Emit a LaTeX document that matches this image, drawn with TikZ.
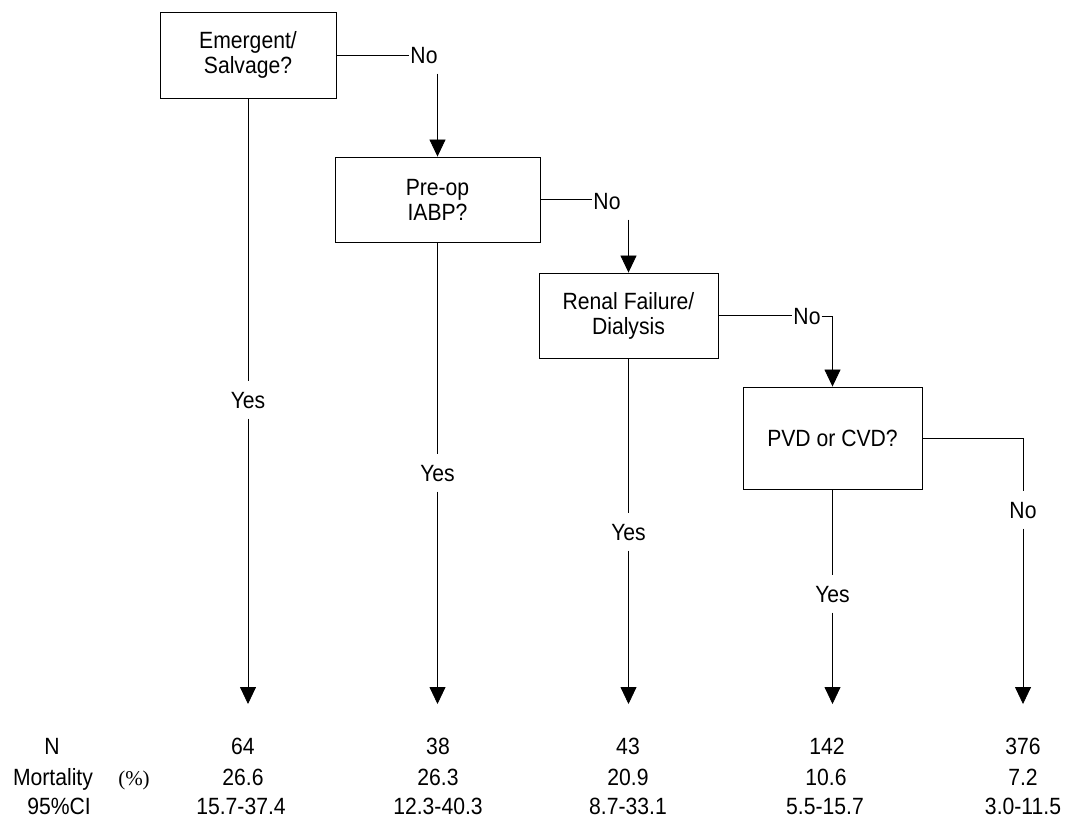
\documentclass[tikz,border=0pt]{standalone}
\usepackage{fontspec}
\setmainfont{Liberation Sans}[FakeStretch=0.9]
\newfontfamily\pctserif{Liberation Serif}
\usetikzlibrary{arrows.meta}
\begin{document}
\begin{tikzpicture}[x=1pt,y=-1pt,
  every node/.style={font=\fontsize{23.5}{25}\selectfont},
  ln/.style={draw=black, line width=0.8pt},
  arr/.style={ln, -{Triangle[width=16pt,length=17pt]}},
  box/.style={draw=black, line width=0.9pt, align=center, inner sep=0pt},
  lbl/.style={fill=white, inner xsep=1pt, inner ysep=10pt, text height=17pt, text depth=0pt},
  val/.style={anchor=base, inner sep=0pt}]
\useasboundingbox (0,0) rectangle (1068,820);
% decision boxes
\node[box, minimum width=176pt, minimum height=86pt] (b1) at (248,55) {Emergent/\\Salvage?};
\node[box, minimum width=205pt, minimum height=85pt] (b2) at (437.5,199.5) {Pre-op\\IABP?};
\node[box, minimum width=179pt, minimum height=85pt] (b3) at (628.5,315.5) {Renal Failure/\\Dialysis};
\node[box, minimum width=179pt, minimum height=102pt] (b4) at (832.5,438) {PVD or CVD?};
% branch labels
\node[lbl] (n1) at (424,55) {No};
\node[lbl] (n2) at (607,201) {No};
\node[lbl] (n3) at (807,316) {No};
\node[lbl] (n4) at (1023,510) {No};
\node[lbl] (y1) at (248,400) {Yes};
\node[lbl] (y2) at (437.5,473) {Yes};
\node[lbl] (y3) at (628.5,532) {Yes};
\node[lbl] (y4) at (832.5,594) {Yes};
% arrow ends
\coordinate (e1) at (248,704);
\coordinate (e2) at (437.5,704);
\coordinate (e3) at (628.5,704);
\coordinate (e4) at (832.5,704);
\coordinate (e5) at (1023,704);
% No branches
\draw[ln] (b1.east) -- (n1.west);
\draw[arr] (n1.south -| b2.north) -- (b2.north);
\draw[ln] (b2.east) -- (b2.east -| n2.west);
\draw[arr] (n2.south -| b3.north) -- (b3.north);
\draw[ln] (b3.east) -- (b3.east -| n3.west);
\draw[arr] (n3.east) -| (b4.north);
\draw[ln] (b4.east) -| (n4.north);
\draw[arr] (n4.south) -- (e5);
% Yes branches
\draw[ln] (b1.south) -- (y1.north);
\draw[arr] (y1.south) -- (e1);
\draw[ln] (b2.south) -- (y2.north);
\draw[arr] (y2.south) -- (e2);
\draw[ln] (b3.south) -- (y3.north);
\draw[arr] (y3.south) -- (e3);
\draw[ln] (b4.south) -- (y4.north);
\draw[arr] (y4.south) -- (e4);
% table
\node[val] (hN) at (52,754) {N};
\node[val] (hM) at (53,785) {Mortality};
\node[val, font=\pctserif\fontsize{21}{24}\selectfont] (hP) at (134,785) {(\%)};
\node[val] (hC) at (59,814) {95\%CI};
\node[val] (v1a) at (243,754) {64};
\node[val] (v1b) at (243,785) {26.6};
\node[val] (v1c) at (241,814) {15.7-37.4};
\node[val] (v2a) at (438,754) {38};
\node[val] (v2b) at (438,785) {26.3};
\node[val] (v2c) at (438,814) {12.3-40.3};
\node[val] (v3a) at (628,754) {43};
\node[val] (v3b) at (628,785) {20.9};
\node[val] (v3c) at (628,814) {8.7-33.1};
\node[val] (v4a) at (827,754) {142};
\node[val] (v4b) at (826,785) {10.6};
\node[val] (v4c) at (825,814) {5.5-15.7};
\node[val] (v5a) at (1023,754) {376};
\node[val] (v5b) at (1023,785) {7.2};
\node[val] (v5c) at (1023,814) {3.0-11.5};
\end{tikzpicture}
\end{document}
